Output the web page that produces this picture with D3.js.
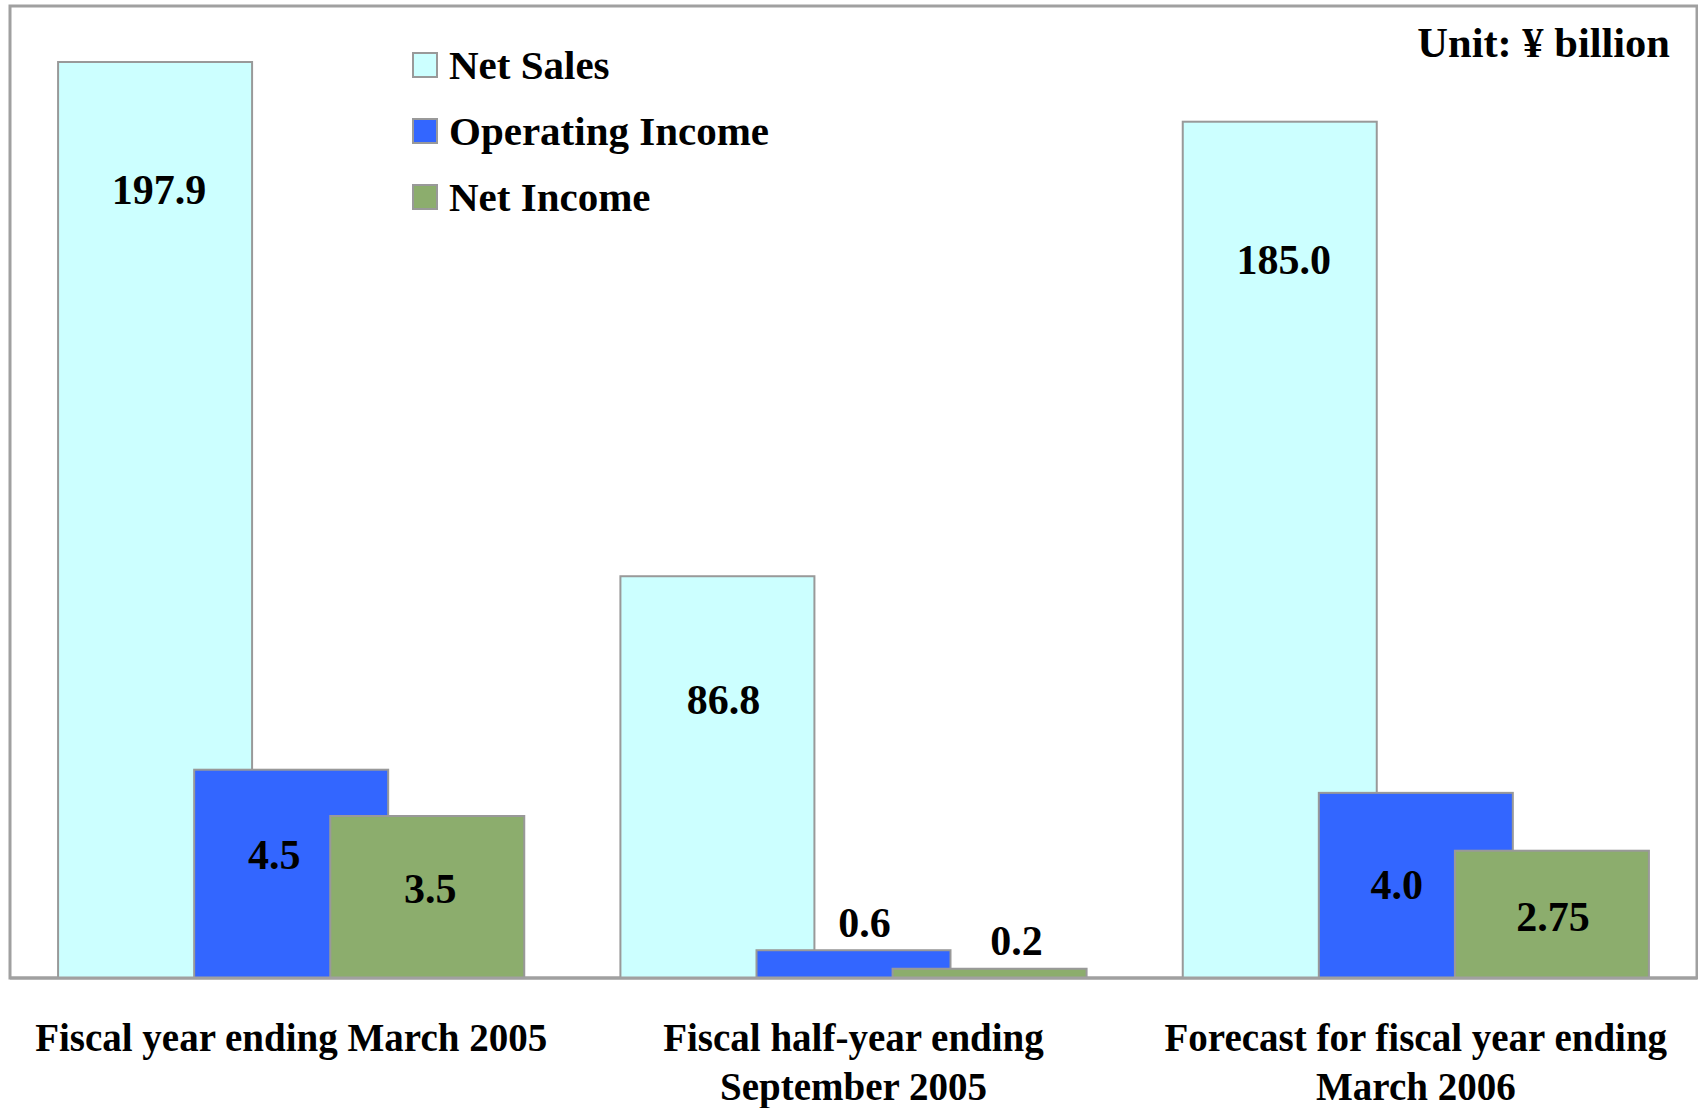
<!DOCTYPE html>
<html>
<head>
<meta charset="utf-8">
<script src="https://cdn.jsdelivr.net/npm/d3@7"></script>
<style>
body { margin: 0; background: #fff; }
text { font-family: "Liberation Serif", "Times New Roman", serif; font-weight: bold; fill: #000; }
</style>
</head>
<body>
<div id="chart"></div>
<script>
// data
const categories = ["Fiscal year ending March 2005", "Fiscal half-year ending September 2005", "Forecast for fiscal year ending March 2006"]
const categoryLines = [["Fiscal year ending March 2005"], ["Fiscal half-year ending", "September 2005"], ["Forecast for fiscal year ending", "March 2006"]]
const seriesNames = ["Net Sales", "Operating Income", "Net Income"]
const netSales = [197.9, 86.8, 185.0]
const operatingIncome = [4.5, 0.6, 4.0]
const netIncome = [3.5, 0.2, 2.75]
const unitLabel = "Unit: \u00a5 billion"

const colors = ["#ccffff", "#3366ff", "#8cad6d"]
// hand placed labels: distance from bar top down to label centre (negative = above bar)
const labelDrop = [[127, 123, 138], [85, -28, 91], [72, -28, 66]]
// and horizontal nudge from bar centre
const labelShift = [[4, 6, 4], [-17, 11, -19], [3, 27, 1]]

const width = 1698, height = 1108
const plot = {left: 10, top: 6, right: 1697, bottom: 978}

const svg = d3.select("#chart").append("svg")
  .attr("width", width)
  .attr("height", height)

// Net Sales on the left scale, incomes on a scale ten times finer
const ySales = d3.scaleLinear().domain([0, 210]).range([plot.bottom, plot.top])
const yIncome = d3.scaleLinear().domain([0, 21]).range([plot.bottom, plot.top])

const x = d3.scaleBand().domain(categories).range([plot.left, plot.right])
const barW = x.bandwidth() * 0.345
const step = x.bandwidth() * 0.242

const series = [netSales, operatingIncome, netIncome]
const yScales = [ySales, yIncome, yIncome]

const fmt = v => Number.isInteger(Math.round(v * 100) / 10) ? v.toFixed(1) : String(v)

// frame
svg.append("rect")
  .attr("x", plot.left)
  .attr("y", plot.top)
  .attr("width", plot.right - plot.left)
  .attr("height", plot.bottom - plot.top)
  .attr("fill", "none")
  .attr("stroke", "#a0a0a0")
  .attr("stroke-width", 3)

series.forEach((vals, s) => {
  const y = yScales[s]
  const rows = vals.map((v, i) => ({cat: categories[i], v: v, i: i}))
  const bx = d => x(d.cat) + x.bandwidth() / 2 + (s - 1) * step - barW / 2

  svg.append("g").selectAll("rect")
    .data(rows)
    .enter()
    .append("rect")
      .attr("x", bx)
      .attr("y", d => y(d.v))
      .attr("width", barW)
      .attr("height", d => y(0) - y(d.v))
      .attr("fill", colors[s])
      .attr("stroke", "#999")
      .attr("stroke-width", 2)

  svg.append("g").selectAll("text")
    .data(rows)
    .enter()
    .append("text")
      .attr("x", d => bx(d) + barW / 2 + labelShift[s][d.i])
      .attr("y", d => y(d.v) + labelDrop[s][d.i])
      .attr("dy", "0.35em")
      .attr("text-anchor", "middle")
      .style("font-size", "42px")
      .text(d => fmt(d.v))
})

// re-draw bottom axis line on top of bars
svg.append("line")
  .attr("x1", plot.left)
  .attr("x2", plot.right)
  .attr("y1", plot.bottom)
  .attr("y2", plot.bottom)
  .attr("stroke", "#a0a0a0")
  .attr("stroke-width", 3)

// category labels
const catG = svg.append("g").selectAll("text")
  .data(categories)
  .enter()
  .append("text")
    .attr("text-anchor", "middle")
    .attr("y", 1051)
    .style("font-size", "39px")

catG.selectAll("tspan")
  .data((d, i) => categoryLines[i].map(t => ({t: t, cx: x(d) + x.bandwidth() / 2})))
  .enter()
  .append("tspan")
    .attr("x", d => d.cx)
    .attr("dy", (d, j) => j === 0 ? 0 : 49)
    .text(d => d.t)

// legend
const legend = svg.append("g").attr("transform", "translate(413, 53)")
seriesNames.forEach((name, i) => {
  const g = legend.append("g").attr("transform", "translate(0," + i * 66 + ")")
  g.append("rect")
    .attr("width", 24)
    .attr("height", 24)
    .attr("fill", colors[i])
    .attr("stroke", "#999")
    .attr("stroke-width", 2)
  g.append("text")
    .attr("x", 36)
    .attr("y", 12)
    .attr("dy", "0.35em")
    .style("font-size", "41px")
    .text(name)
})

svg.append("text")
  .attr("x", 1670)
  .attr("y", 57)
  .attr("text-anchor", "end")
  .style("font-size", "42.5px")
  .text(unitLabel)
</script>
</body>
</html>
